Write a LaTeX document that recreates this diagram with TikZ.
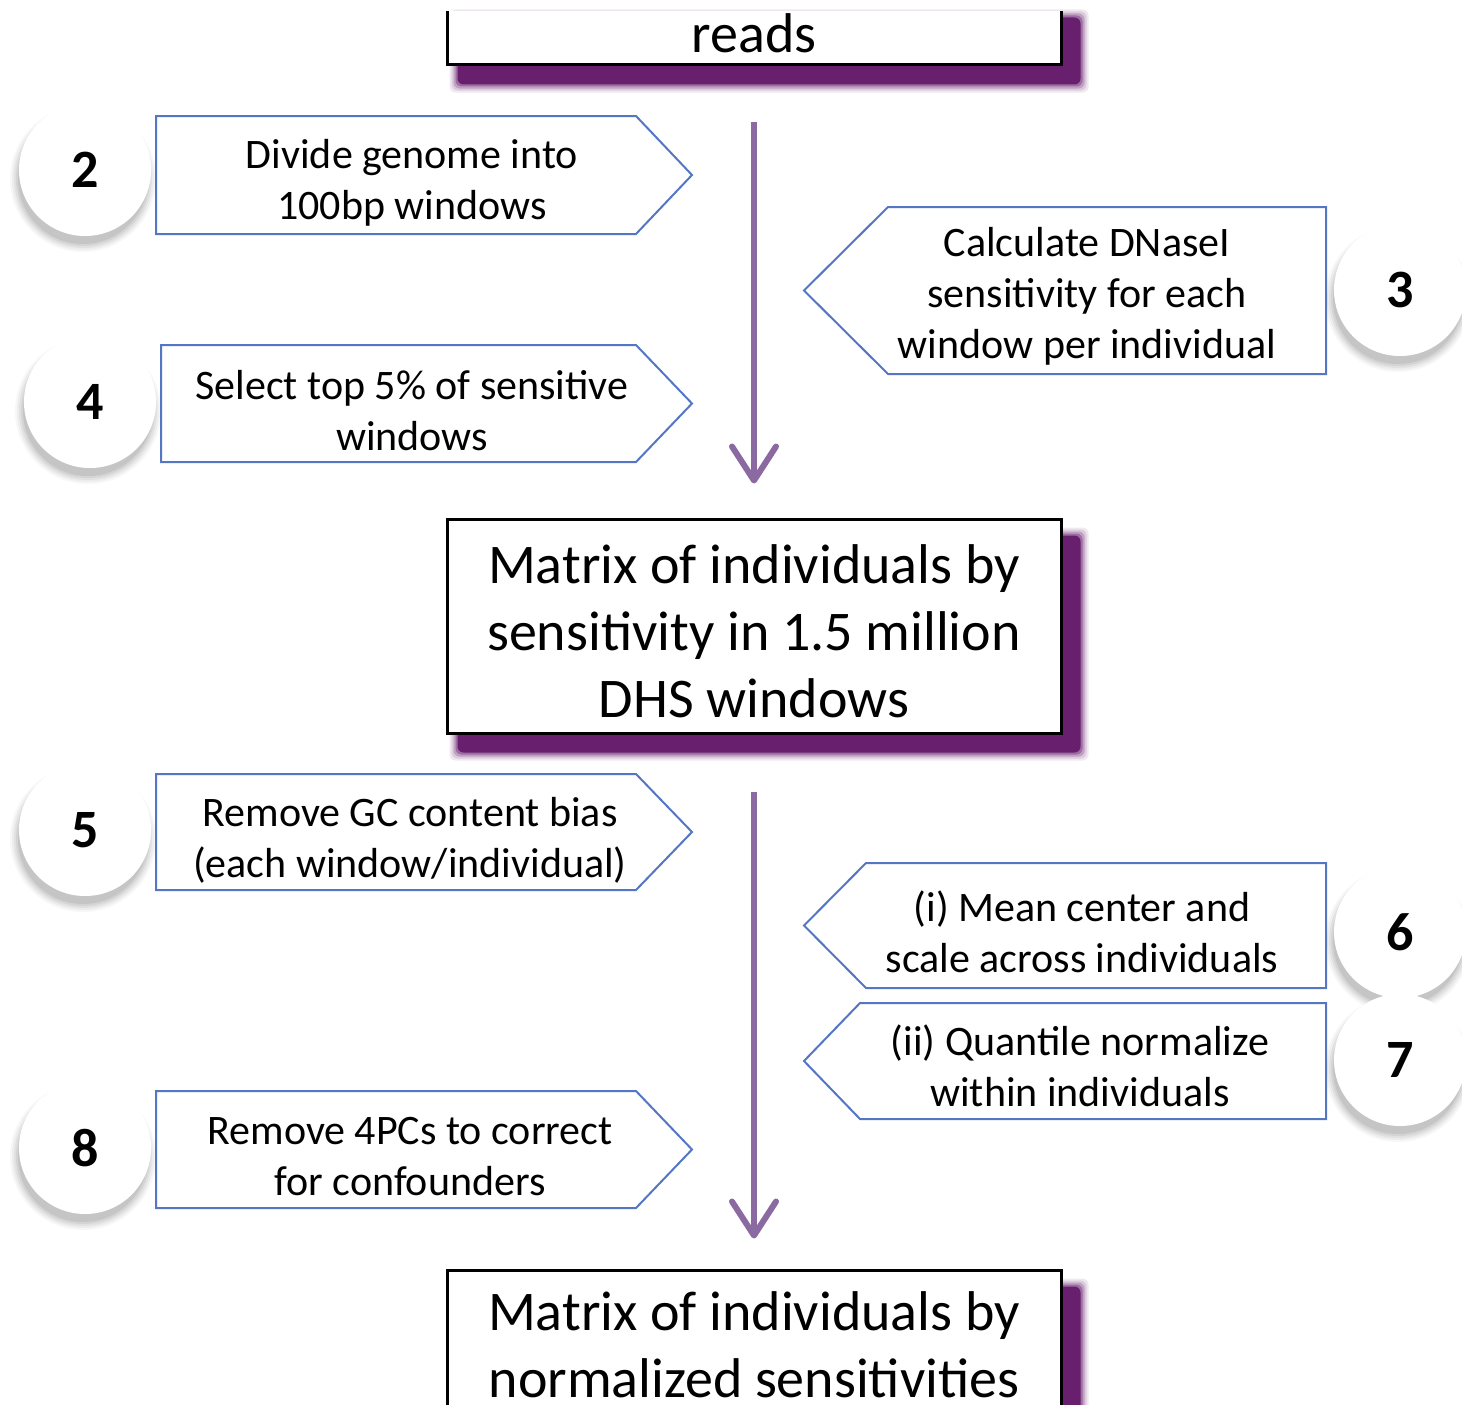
\documentclass[tikz,border=0pt]{standalone}
\usepackage{fontspec}
\setmainfont{Carlito}
\usetikzlibrary{arrows.meta,calc,backgrounds}
\definecolor{shadowpurple}{RGB}{104,32,110}
\definecolor{flowpurple}{RGB}{138,106,160}
\definecolor{stepblue}{RGB}{84,118,196}
\tikzset{
  bigbox/.style={draw=black, line width=3pt, fill=white, minimum width=614pt, align=center,
    font=\fontsize{56}{67}\selectfont, inner sep=0pt},
  steptext/.style={align=center, font=\fontsize{42}{51}\selectfont, inner sep=0pt},
  pentline/.style={draw=stepblue, line width=2pt, fill=white, line join=miter},
  flowarrow/.style={draw=flowpurple, line width=6pt, -{Straight Barb[length=34pt,width=44pt,round]}},
  numcircle/.style={circle, fill=white, minimum size=132pt, inner sep=0pt,
    font=\fontsize{54}{60}\selectfont\bfseries},
}
\newcommand\boxshadow[1]{%
  \foreach \i/\op in {8/0.10, 6/0.15, 4/0.25, 2/0.4, 0/1}{%
    \fill[shadowpurple, opacity=\op, rounded corners=6pt]
      ($(#1.north west)+(12-\i,18-\i)$) rectangle ($(#1.south east)+(18+\i,18+\i)$);}}
\newcommand\circshadow[1]{%
  \foreach \i/\op in {9/0.03, 7/0.04, 5/0.05, 3/0.06, 1/0.07}{%
    \fill[black, opacity=\op] ($(#1.center)+(-2,9)$) circle[radius=64+\i];}}
% right-pointing pentagon: left, shoulder, tip, top, bottom
\newcommand\pentR[5]{\draw[pentline] (#1,#4) -- (#2,#4) -- (#3,{(#4+#5)/2}) -- (#2,#5) -- (#1,#5) -- cycle;}
% left-pointing pentagon: right, shoulder, tip, top, bottom
\newcommand\pentL[5]{\draw[pentline] (#1,#4) -- (#2,#4) -- (#3,{(#4+#5)/2}) -- (#2,#5) -- (#1,#5) -- cycle;}
\begin{document}
\begin{tikzpicture}[x=1pt,y=-1pt]
\useasboundingbox (0,0) rectangle (1462,1405);
\clip (0,12) rectangle (1462,1405);

% main boxes
\node[bigbox, minimum height=64pt] (top) at (754,33) {reads};
\node[bigbox, minimum height=214pt] (mid) at (754,626) {\raisebox{-5pt}[\height][\depth]{\parbox{600pt}{\centering Matrix of individuals by\\sensitivity in 1.5 million\\DHS windows}}};
\node[bigbox, minimum height=150pt] (bot) at (754,1345) {Matrix of individuals by\\normalized sensitivities};
\begin{scope}[on background layer]
  \boxshadow{top}
  \boxshadow{mid}
  \boxshadow{bot}
\end{scope}

% flow arrows
\draw[flowarrow] ($(top.south)+(0,55)$) -- ($(mid.north)+(0,-34)$);
\draw[flowarrow] ($(mid.south)+(0,57)$) -- ($(bot.north)+(0,-30)$);

% number circles
\coordinate (c2) at (85,170);
\coordinate (c4) at (90,402);
\coordinate (c5) at (85,830);
\coordinate (c8) at (85,1148);
\coordinate (c3) at (1400,290);
\coordinate (c6) at (1400,932);
\coordinate (c7) at (1400,1060);
\foreach \c/\n in {c2/2,c4/4,c5/5,c8/8,c3/3,c6/6,c7/7}{%
  \circshadow{\c}
  \node[numcircle] (n\n) at (\c) {\n};
}

% step boxes
\pentR{156}{636}{692}{116}{234}
\node[steptext] (s2) at (412,183) {Divide genome into\\100bp windows};
\pentR{161}{636}{692}{345}{462}
\node[steptext] (s4) at (412,411) {Select top 5\% of sensitive\\windows};
\pentL{1326}{888}{804}{207}{374}
\node[steptext] (s3) at (1087,296) {Calculate DNaseI\\sensitivity for each\\window per individual};
\pentR{156}{636}{692}{774}{890}
\node[steptext] (s5) at (410,840) {Remove GC content bias\\(each window/individual)};
\pentL{1326}{866}{804}{863}{988}
\node[steptext] (s6) at (1082,932) {(i) Mean center and\\scale across individuals};
\pentL{1326}{860}{804}{1003}{1119}
\node[steptext] (s7) at (1080,1066) {(ii) Quantile normalize\\within individuals};
\pentR{156}{636}{692}{1091}{1208}
\node[steptext] (s8) at (410,1157) {Remove 4PCs to correct\\for confounders};
\end{tikzpicture}
\end{document}
